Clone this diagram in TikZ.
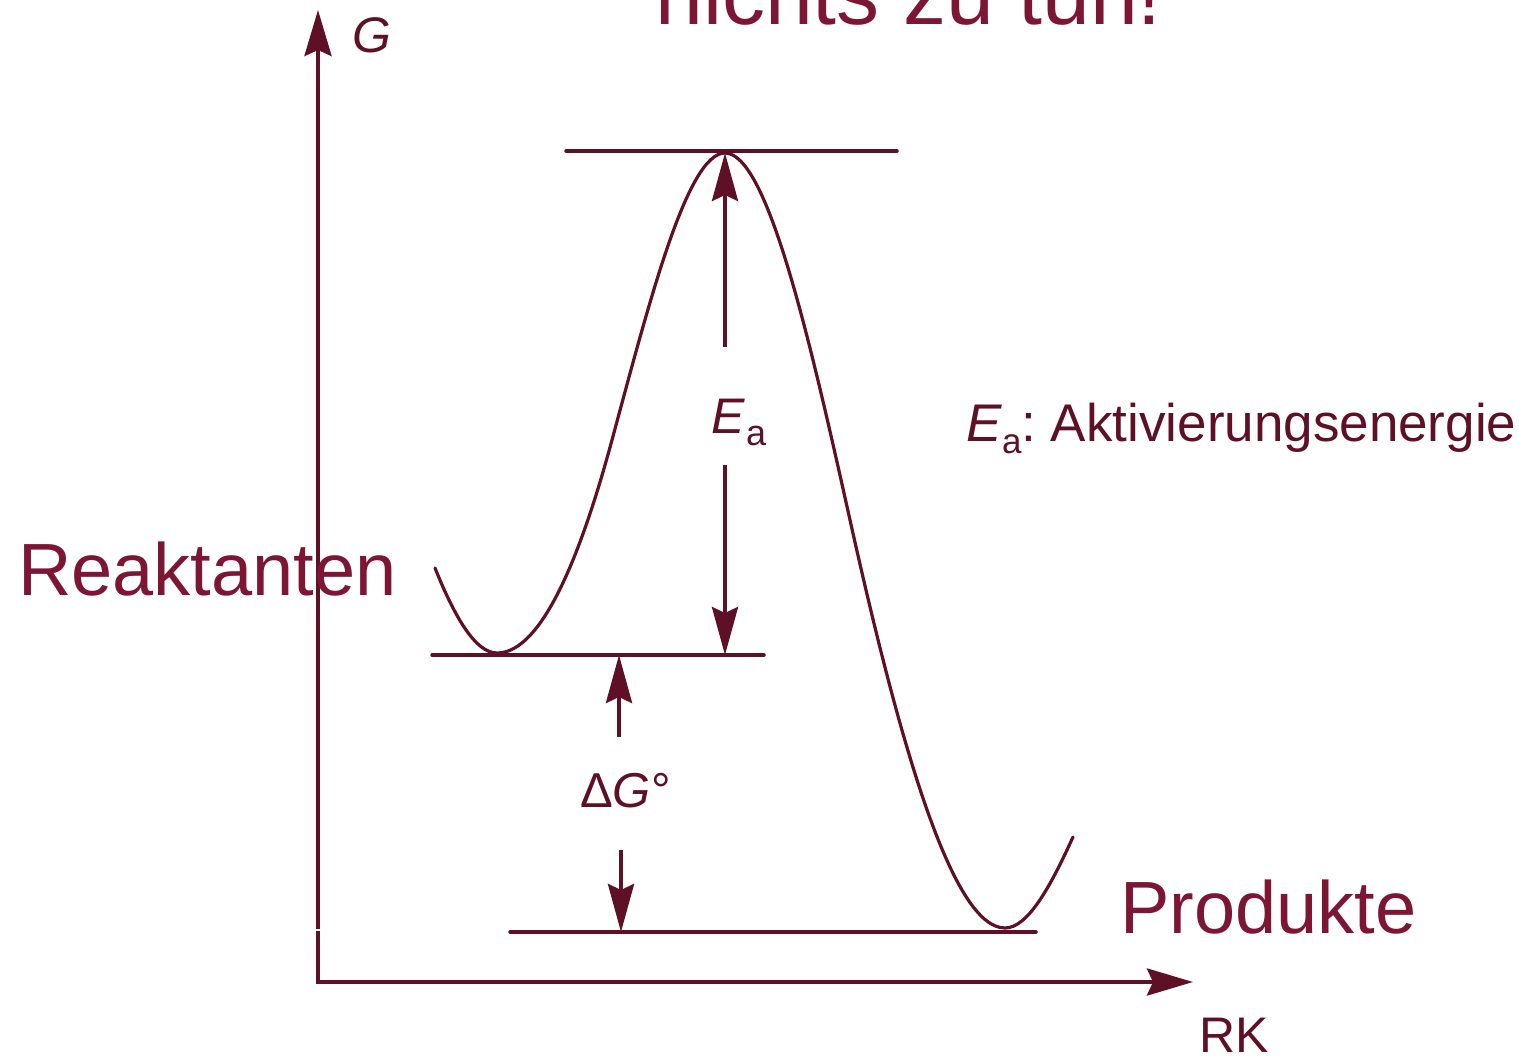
\documentclass[tikz,border=0pt]{standalone}
\usepackage{fontspec}
\setmainfont{Liberation Sans}
\usetikzlibrary{arrows.meta}
\definecolor{linec}{RGB}{94,16,38}
\definecolor{textc}{RGB}{124,22,52}
\begin{document}
\begin{tikzpicture}[x=1pt,y=-1pt,
  lab/.style={inner sep=0pt, anchor=base west, text=linec},
  big/.style={inner sep=0pt, anchor=base west, text=textc, font=\fontsize{74}{80}\selectfont},
  axisline/.style={draw=linec, line width=4pt},
  axisarrow/.style={draw=linec, line width=4pt, -{Stealth[length=46pt,width=27pt,inset=6pt]}},
  level/.style={draw=linec, line width=3.5pt, line cap=round},
  dimarrow/.style={draw=linec, line width=4pt, -{Stealth[length=48pt,width=26pt,inset=6pt]}},
  curveline/.style={draw=linec, line width=3.2pt, line cap=round}]
\useasboundingbox (0,0) rectangle (1519,1057);

% coordinates
\coordinate (yb) at (318,984);
\coordinate (yg1) at (318,931);
\coordinate (yg2) at (318,929);
\coordinate (yt) at (318,10);
\coordinate (xl) at (316,982);
\coordinate (xr) at (1193,982);
\coordinate (tl) at (566,151);
\coordinate (tr) at (897,151);
\coordinate (rl) at (432,655);
\coordinate (rr) at (764,655);
\coordinate (pl) at (510,932);
\coordinate (pr) at (1036,932);
\coordinate (eaup) at (725,347);
\coordinate (eatop) at (725,153);
\coordinate (eadn) at (725,465);
\coordinate (eabot) at (725,655);
\coordinate (dgup) at (619,737);
\coordinate (dgtop) at (619,655);
\coordinate (dgdn) at (621,850);
\coordinate (dgbot) at (621,932);

% curve key points
\coordinate (c0) at (435,568);
\coordinate (c1) at (497,653);
\coordinate (c2) at (612,440);
\coordinate (c3) at (725,153);
\coordinate (c4) at (850,520);
\coordinate (c5) at (1005,928);
\coordinate (c6) at (1073,837);

% axes
\draw[axisline] (yb) -- (yg1);
\draw[axisarrow] (yg2) -- (yt);
\draw[axisarrow] (xl) -- (xr);

% levels
\draw[level] (tl) -- (tr);
\draw[level] (rl) -- (rr);
\draw[level] (pl) -- (pr);

% energy curve
\draw[curveline] (c0)
  .. controls (455.7,619.7) and (476.3,653) .. (c1)
  .. controls (535.3,653) and (573.7,581.8) .. (c2)
  .. controls (649.7,300.6) and (687.3,153) .. (c3)
  .. controls (766.7,153) and (808.3,332.5) .. (c4)
  .. controls (901.7,752.5) and (953.3,928) .. (c5)
  .. controls (1027.7,928) and (1050.3,887) .. (c6);

% dimension arrows
\draw[dimarrow] (eaup) -- (eatop);
\draw[dimarrow] (eadn) -- (eabot);
\draw[dimarrow] (dgup) -- (dgtop);
\draw[dimarrow] (dgdn) -- (dgbot);

% labels
\node[big, font=\fontsize{86}{90}\selectfont] (title) at (655,25) {nichts zu tun!};
\node[lab, font=\fontsize{50}{54}\selectfont\itshape] (glab) at (352,53) {G};
\node[lab, font=\fontsize{50}{54}\selectfont] (rklab) at (1199,1052) {RK};
\node[big] (reak) at (18,595) {Reaktanten};
\node[big] (prod) at (1120,933) {Produkte};
\node[lab, font=\fontsize{50}{54}\selectfont] (ealab) at (711,433)
  {\textit{E}\kern1pt\raisebox{-0.24em}{\fontsize{36}{36}\selectfont a}};
\node[lab, font=\fontsize{53}{56}\selectfont] (eadef) at (966,441)
  {\textit{E}\raisebox{-0.24em}{\fontsize{35}{35}\selectfont a}:~Aktivierungsenergie};
\node[lab, font=\fontsize{49}{53}\selectfont] (dglab) at (580,807)
  {Δ\textit{G}°};
\end{tikzpicture}
\end{document}
